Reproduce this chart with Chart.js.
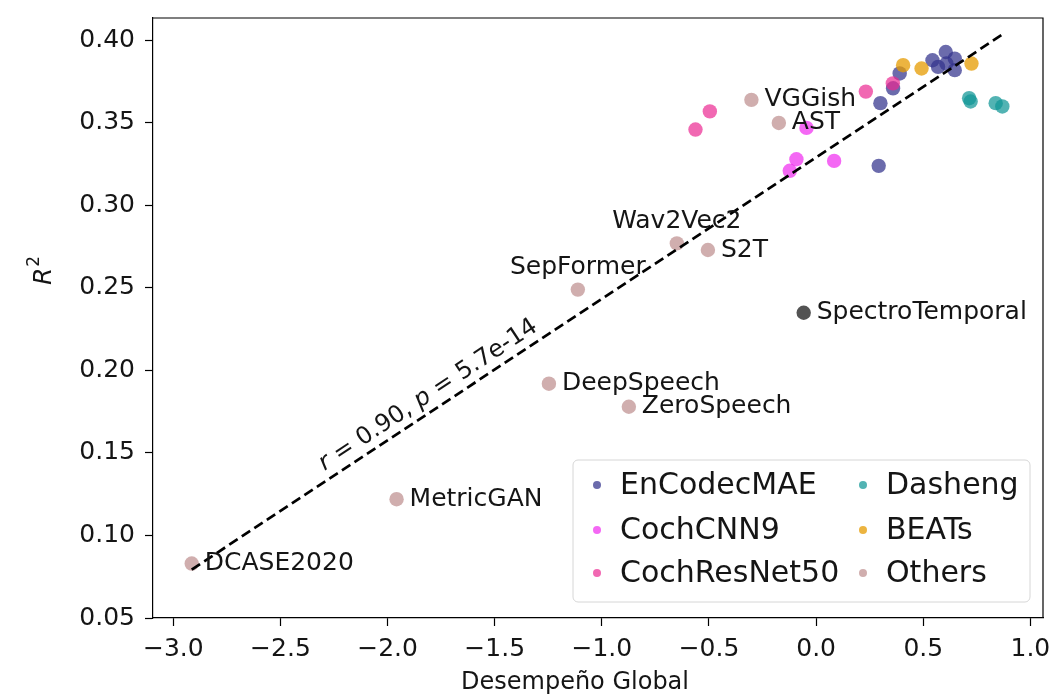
<!DOCTYPE html>
<html>
<head>
<meta charset="utf-8">
<script src="https://cdn.jsdelivr.net/npm/chart.js@4/dist/chart.umd.min.js"></script>
<style>
  html, body { margin: 0; padding: 0; background: #fff; }
  #wrap { width: 1054px; height: 696px; }
</style>
</head>
<body>
<div id="wrap"><canvas id="chart" width="1054" height="696"></canvas></div>
<script>
  // x = Desempeño Global, y = R²
  const encodecX = [0.292, 0.300, 0.359, 0.390, 0.543, 0.569, 0.605, 0.608, 0.647, 0.647];
  const encodecY = [0.324, 0.362, 0.371, 0.380, 0.388, 0.384, 0.393, 0.386, 0.389, 0.382];
  const cochcnnX = [-0.045, -0.092, -0.123, 0.084];
  const cochcnnY = [0.347, 0.328, 0.321, 0.327];
  const cochresX = [-0.563, -0.496, 0.232, 0.358];
  const cochresY = [0.346, 0.357, 0.369, 0.374];
  const dashengX = [0.714, 0.721, 0.838, 0.869];
  const dashengY = [0.365, 0.363, 0.362, 0.360];
  const beatsX = [0.406, 0.492, 0.725];
  const beatsY = [0.385, 0.383, 0.386];
  const otherNames = ['DCASE2020', 'MetricGAN', 'DeepSpeech', 'ZeroSpeech', 'SepFormer', 'Wav2Vec2', 'S2T', 'VGGish', 'AST'];
  const otherX = [-2.914, -1.958, -1.247, -0.874, -1.112, -0.650, -0.505, -0.302, -0.174];
  const otherY = [0.083, 0.122, 0.192, 0.178, 0.249, 0.277, 0.273, 0.364, 0.350];
  const otherPlace = ['right', 'right', 'right', 'right', 'above', 'above', 'right', 'right', 'right'];
  const spectroNames = ['SpectroTemporal'];
  const spectroX = [-0.058];
  const spectroY = [0.235];
  const fitSlope = 0.0857, fitIntercept = 0.3291;
  const statR = '0.90', statP = '5.7e-14';
  const xTicks = [-3.0, -2.5, -2.0, -1.5, -1.0, -0.5, 0.0, 0.5, 1.0];
  const yTicks = [0.05, 0.10, 0.15, 0.20, 0.25, 0.30, 0.35, 0.40];

  const FONT = 'DejaVu Sans';
  const INK = '#151515';
  const pts = (xs, ys) => xs.map((x, i) => ({ x: x, y: ys[i] }));
  const allX = [].concat(encodecX, cochcnnX, cochresX, dashengX, beatsX, otherX, spectroX);
  const fitX = [Math.min(...allX), Math.max(...allX)];

  function group(label, xs, ys, color, i) {
    return {
      label: label, data: pts(xs, ys), backgroundColor: color, borderWidth: 0,
      pointRadius: 7.2, pointHoverRadius: 7.2, order: -i
    };
  }

  const datasets = [
    group('EnCodecMAE', encodecX, encodecY, 'rgba(50,50,140,0.72)', 0),
    group('CochCNN9', cochcnnX, cochcnnY, 'rgba(240,40,240,0.7)', 1),
    group('CochResNet50', cochresX, cochresY, 'rgba(235,40,145,0.7)', 2),
    group('Dasheng', dashengX, dashengY, 'rgba(15,150,150,0.72)', 3),
    group('BEATs', beatsX, beatsY, 'rgba(230,155,0,0.75)', 4),
    group('Others', otherX, otherY, 'rgba(188,140,140,0.7)', 5),
    group('SpectroTemporal', spectroX, spectroY, 'rgba(25,25,25,0.75)', 6),
    {
      type: 'line', label: 'fit', order: -10,
      data: fitX.map(x => ({ x: x, y: fitIntercept + fitSlope * x })),
      borderColor: '#000', borderWidth: 2.7, borderDash: [10, 5], pointRadius: 0, fill: false
    }
  ];
  const legendOrder = [0, 1, 2, 3, 4, 5];

  const decor = {
    id: 'decor',
    afterDatasetsDraw(chart) {
      const { ctx, chartArea: a, scales } = chart;
      ctx.save();
      // top & right spines
      ctx.strokeStyle = '#000'; ctx.lineWidth = 1.2;
      ctx.beginPath();
      ctx.moveTo(a.left, a.top); ctx.lineTo(a.right, a.top); ctx.lineTo(a.right, a.bottom);
      ctx.stroke();

      // point labels
      ctx.fillStyle = INK;
      ctx.font = '25px "' + FONT + '"';
      ctx.textBaseline = 'middle';
      const label = (name, x, y, place) => {
        const px = scales.x.getPixelForValue(x), py = scales.y.getPixelForValue(y);
        if (place === 'above') { ctx.textAlign = 'center'; ctx.fillText(name, px, py - 22); }
        else { ctx.textAlign = 'left'; ctx.fillText(name, px + 13, py); }
      };
      otherNames.forEach((n, i) => label(n, otherX[i], otherY[i], otherPlace[i]));
      spectroNames.forEach((n, i) => label(n, spectroX[i], spectroY[i], 'right'));

      // r / p annotation along the fit line
      const x0 = scales.x.getPixelForValue(fitX[0]), y0 = scales.y.getPixelForValue(fitIntercept + fitSlope * fitX[0]);
      const x1 = scales.x.getPixelForValue(fitX[1]), y1 = scales.y.getPixelForValue(fitIntercept + fitSlope * fitX[1]);
      const ang = Math.atan2(y1 - y0, x1 - x0);
      const ax = scales.x.getPixelForValue(-1.81), ay = scales.y.getPixelForValue(0.185);
      ctx.translate(ax, ay); ctx.rotate(ang);
      const parts = [['r', true], [' = ' + statR + ', ', false], ['p', true], [' = ' + statP, false]];
      const fontOf = it => (it ? 'italic ' : '') + '24px "' + FONT + '"';
      let w = 0;
      parts.forEach(p => { ctx.font = fontOf(p[1]); w += ctx.measureText(p[0]).width; });
      let cx = -w / 2;
      ctx.textAlign = 'left'; ctx.textBaseline = 'middle';
      parts.forEach(p => { ctx.font = fontOf(p[1]); ctx.fillText(p[0], cx, 0); cx += ctx.measureText(p[0]).width; });
      ctx.setTransform(1, 0, 0, 1, 0, 0);

      // legend box
      const bw = 457, bh = 142;
      const bx = a.right - 13 - bw, by = a.bottom - 16 - bh;
      ctx.fillStyle = 'rgba(255,255,255,0.8)';
      ctx.strokeStyle = '#d6d6d6'; ctx.lineWidth = 1;
      ctx.beginPath(); ctx.roundRect(bx, by, bw, bh, 5); ctx.fill(); ctx.stroke();
      ctx.font = '30px "' + FONT + '"';
      ctx.textAlign = 'left'; ctx.textBaseline = 'middle';
      const rows = [25, 70, 113], cols = [[24, 47], [290, 313]];
      legendOrder.forEach((di, k) => {
        const ds = chart.data.datasets[di];
        const c = cols[Math.floor(k / 3)], ry = by + rows[k % 3];
        ctx.fillStyle = ds.backgroundColor;
        ctx.beginPath(); ctx.arc(bx + c[0], ry, 4, 0, Math.PI * 2); ctx.fill();
        ctx.fillStyle = INK;
        ctx.fillText(ds.label, bx + c[1], ry + 1);
      });

      // x axis title
      ctx.fillStyle = INK;
      ctx.font = '24px "' + FONT + '"';
      ctx.textAlign = 'center'; ctx.textBaseline = 'middle';
      ctx.fillText('Desempeño Global', 575, 683);

      // y axis title: italic R with superscript 2
      ctx.translate(42, 271); ctx.rotate(-Math.PI / 2);
      ctx.font = 'italic 25px "' + FONT + '"';
      const rw = ctx.measureText('R').width;
      ctx.font = '17px "' + FONT + '"';
      const sw = ctx.measureText('2').width;
      ctx.textAlign = 'left'; ctx.textBaseline = 'alphabetic';
      ctx.font = 'italic 25px "' + FONT + '"';
      ctx.fillText('R', -(rw + sw) / 2, 9);
      ctx.font = '17px "' + FONT + '"';
      ctx.fillText('2', -(rw + sw) / 2 + rw + 1, -3);
      ctx.restore();
    }
  };

  const axisCommon = {
    type: 'linear',
    grid: { drawOnChartArea: false, drawTicks: true, tickLength: 8, tickWidth: 1.2, tickColor: '#000' },
    border: { display: true, color: '#000', width: 1.2 }
  };

  new Chart(document.getElementById('chart'), {
    type: 'scatter',
    data: { datasets: datasets },
    options: {
      responsive: false, animation: false, events: [],
      layout: { padding: { left: 0, top: 18, right: 11, bottom: 0 } },
      plugins: { legend: { display: false }, tooltip: { enabled: false } },
      scales: {
        x: Object.assign({}, axisCommon, {
          min: -3.0947, max: 1.0588,
          afterBuildTicks: s => { s.ticks = xTicks.map(v => ({ value: v })); },
          afterFit: s => { s.height = 78; s.paddingLeft = 0; s.paddingRight = 0; },
          ticks: {
            color: INK, padding: 8, maxRotation: 0, autoSkip: false,
            font: { family: FONT, size: 25 },
            callback: v => v.toFixed(1).replace('-', '\u2212')
          }
        }),
        y: Object.assign({}, axisCommon, {
          min: 0.05, max: 0.4136,
          afterBuildTicks: s => { s.ticks = yTicks.map(v => ({ value: v })); },
          afterFit: s => { s.width = 153; s.paddingTop = 0; s.paddingBottom = 0; },
          ticks: {
            color: INK, padding: 10, autoSkip: false,
            font: { family: FONT, size: 25 },
            callback: v => v.toFixed(2)
          }
        })
      }
    },
    plugins: [decor]
  });
</script>
</body>
</html>
